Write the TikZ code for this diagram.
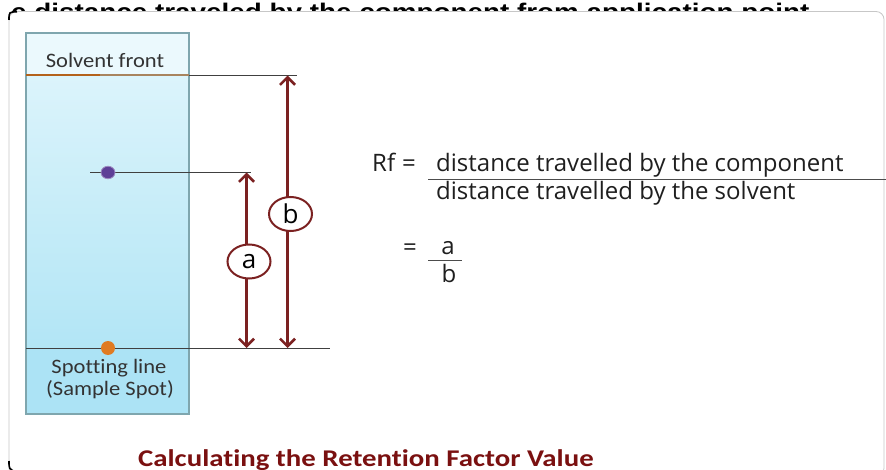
\documentclass[tikz,border=0pt]{standalone}
\usepackage{fontspec}
\setmainfont{Carlito}
\newfontfamily\lab[FakeStretch=1.1,Ligatures=NoCommon]{Carlito}
\newfontfamily\frm{Open Sans}
\newfontfamily\ttl[FakeStretch=1.2,Ligatures=NoCommon]{Carlito}
\newfontfamily\topf[FakeStretch=1.16]{Liberation Sans}
\usetikzlibrary{arrows.meta,shapes.geometric}
\definecolor{maroon}{HTML}{7B2121}
\definecolor{tubeedge}{HTML}{7FA6AE}
\definecolor{tubetop}{HTML}{E2F6FC}
\definecolor{tubebot}{HTML}{A8E2F4}
\definecolor{titlered}{HTML}{7A1010}
\definecolor{txt}{HTML}{333333}
\definecolor{spotpurple}{HTML}{5E3F97}
\definecolor{spotorange}{HTML}{E07B22}
\definecolor{frontline}{HTML}{A8845E}
\tikzset{
  arr/.style={draw=maroon, line width=2.6pt, {Straight Barb[length=7.5pt,width=15pt]}-{Straight Barb[length=7.5pt,width=15pt]}},
  lettercirc/.style={ellipse, draw=maroon, line width=2pt, fill=white, minimum width=43pt, minimum height=34pt, inner sep=0pt, font=\frm\fontsize{26}{26}\selectfont, text=black},
  lab/.style={font=\lab\fontsize{20.5}{22}\selectfont, text=txt, inner sep=0pt},
  frm/.style={font=\frm\fontsize{24}{26}\selectfont, text=black!88, inner sep=0pt},
  thinline/.style={draw=black!75, line width=0.8pt},
}
\begin{document}
\begin{tikzpicture}[x=1pt,y=-1pt]
\useasboundingbox (0,0) rectangle (886,470);
\clip (0,0) rectangle (886,470);
% cut-off text at the very top
\node[anchor=base west, inner sep=0pt, font=\topf\bfseries\fontsize{24}{24}\selectfont] (toptext) at (11,21) {e distance traveled by the component from application point};
% slide
\fill[white, draw=black!22, line width=0.8pt, rounded corners=8pt] (9,11.5) rectangle (884,476);
\draw[line width=1.6pt, black] (9,20) .. controls (9,12) .. (17,11.8);
\draw[line width=1.6pt, black] (9,461) .. controls (9,469) .. (16,472);
% tube
\shade[top color=tubetop, bottom color=tubebot] (26,33) rectangle (189,414);
\fill[tubetop!70!white] (26,33) rectangle (189,75);
\fill[tubebot!95!white] (26,348) rectangle (189,414);
\draw[tubeedge, line width=1.3pt] (26,33) rectangle (189,414);
% coordinates
\coordinate (sfL) at (26,75.5);
\coordinate (sfM) at (100,75.5);
\coordinate (sfR) at (189,75.5);
\coordinate (sfEnd) at (297,75.5);
\coordinate (slL) at (26,348);
\coordinate (slEnd) at (330,348);
\coordinate (cpL) at (90,172.5);
\coordinate (cpEnd) at (251,172.5);
\coordinate (aTop) at (246.5,172.5);
\coordinate (aBot) at (246.5,348);
\coordinate (bTop) at (287.5,75.5);
\coordinate (bBot) at (287.5,348);
% solvent front
\draw[thinline] (sfR) -- (sfEnd);
\draw[frontline, line width=2pt] (sfL) -- (sfR);
\draw[spotorange!80!black, line width=2pt] (sfL) -- (sfM);
% spotting line and component line
\draw[thinline] (slL) -- (slEnd);
\draw[thinline] (cpL) -- (cpEnd);
% spots
\node[ellipse, inner sep=0pt, minimum width=14pt, minimum height=12.5pt, fill=spotpurple, draw=spotpurple!60!white, line width=0.8pt] (comp) at (108,172.5) {};
\node[circle, inner sep=0pt, minimum size=14pt, fill=spotorange] (sample) at (108,348) {};
% labels in tube
\node[lab, anchor=base] (solvfront) at (105,68) {Solvent front};
\node[lab, anchor=base] (spotline) at (109,373) {Spotting line};
\node[lab, anchor=base] (samplespot) at (110,395) {(Sample Spot)};
% arrows
\draw[arr] (aTop) -- (aBot);
\draw[arr] (bTop) -- (bBot);
\node[lettercirc] (acirc) at (249,261.5) {a};
\node[lettercirc] (bcirc) at (290.5,214) {b};
% formula
\node[frm, anchor=base west] (rf) at (372,172) {Rf};
\node[frm, anchor=base] (eq1) at (409,172) {=};
\node[frm, anchor=base west] (num) at (436,172) {distance travelled by the component};
\coordinate (frL) at (428,179.5);
\coordinate (frR) at (886,179.5);
\draw[draw=black!70, line width=1.2pt] (frL) -- (frR);
\node[frm, anchor=base west] (den) at (436,200) {distance travelled by the solvent};
\node[frm, anchor=base] (eq2) at (410,256) {=};
\node[frm, anchor=base] (fa) at (448,255) {a};
\coordinate (f2L) at (428,260.5);
\coordinate (f2R) at (462,260.5);
\draw[draw=black!70, line width=1.2pt] (f2L) -- (f2R);
\node[frm, anchor=base] (fb) at (449,283) {b};
% title
\node[anchor=base west, inner sep=0pt, font=\ttl\bfseries\fontsize{24}{24}\selectfont, text=titlered] (title) at (138,466.5) {Calculating the Retention Factor Value};
\end{tikzpicture}
\end{document}
